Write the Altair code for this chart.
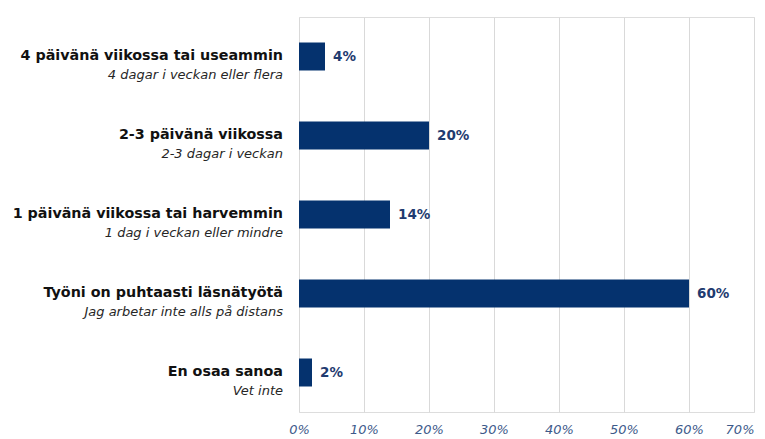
import altair as alt
import pandas as pd

labels_fi = [
    "4 päivänä viikossa tai useammin",
    "2-3 päivänä viikossa",
    "1 päivänä viikossa tai harvemmin",
    "Työni on puhtaasti läsnätyötä",
    "En osaa sanoa",
]
labels_sv = [
    "4 dagar i veckan eller flera",
    "2-3 dagar i veckan",
    "1 dag i veckan eller mindre",
    "Jag arbetar inte alls på distans",
    "Vet inte",
]
values = [4, 20, 14, 60, 2]

df = pd.DataFrame({
    "cat": labels_fi,
    "sv": labels_sv,
    "v": [x / 100 for x in values],
    "lbl": [f"{x}%" for x in values],
})

FONT = "DejaVu Sans"

y = alt.Y("cat:N", sort=labels_fi, axis=None,
          scale=alt.Scale(paddingInner=0.64, paddingOuter=0.32))
x = alt.X("v:Q", scale=alt.Scale(domain=[0, 0.7], nice=False),
          axis=alt.Axis(format=".0%", values=[0, 0.1, 0.2, 0.3, 0.4, 0.5, 0.6, 0.7],
                        title=None, domain=False, ticks=False, grid=True,
                        gridColor="#d9d9d9", gridWidth=1,
                        labelFlush=False, labelOverlap=False, labelBound=False,
                        labelAlign=alt.ExprRef("datum.value >= 0.69 ? 'right' : 'center'"),
                        labelFont=FONT, labelFontSize=13, labelFontStyle="italic",
                        labelColor="#3d5a8a", labelPadding=11))

base = alt.Chart(df)

bars = base.mark_bar(color="#05326e", size=28).encode(x=x, y=y)

vals = base.mark_text(align="left", baseline="middle", dx=8, font=FONT,
                      fontSize=13.5, fontWeight="bold", color="#1f3b70").encode(
    x="v:Q", y=alt.Y("cat:N", sort=labels_fi), text="lbl:N")

fi = base.mark_text(align="right", baseline="middle", font=FONT, fontSize=14.3,
                    fontWeight="bold", color="#111111", dy=-1).encode(
    x=alt.value(-16), y=alt.Y("cat:N", sort=labels_fi), text="cat:N")

sv = base.mark_text(align="right", baseline="middle", font=FONT, fontSize=13,
                    fontStyle="italic", color="#262626", dy=18).encode(
    x=alt.value(-16), y=alt.Y("cat:N", sort=labels_fi), text="sv:N")

chart = alt.layer(bars, vals, fi, sv).properties(
    width=455, height=395,
    autosize=alt.AutoSizeParams(type="none"),
    padding={"left": 291, "top": 9, "right": 2, "bottom": 30},
).configure_view(stroke=None).configure(background="white")

chart.save("out.html", embed_options={"renderer": "svg", "actions": False})
